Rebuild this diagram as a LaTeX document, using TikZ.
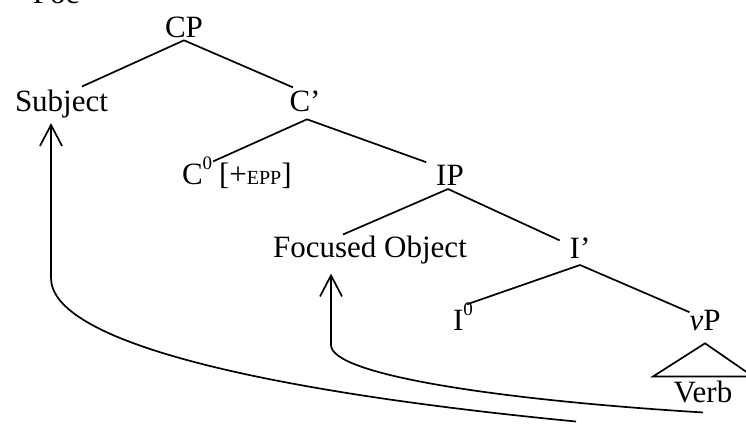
\documentclass[tikz,border=0pt]{standalone}
\usepackage{fontspec}
\setmainfont{Liberation Serif}
\usetikzlibrary{arrows.meta,calc}
% small raised zero for head labels
\newcommand{\supz}{\raisebox{15pt}{\fontsize{19}{22}\selectfont 0}}
\begin{document}
\begin{tikzpicture}[x=1pt,y=1pt,
  lbl/.style={anchor=base,inner sep=0pt,outer sep=0pt,font=\fontsize{31}{37}\selectfont},
  branch/.style={line width=1.7pt},
  move/.style={line width=1.7pt,-{Straight Barb[length=21pt,width=22pt]}}]
\useasboundingbox (0,0) rectangle (746,-423);

% tree labels
\node[lbl,anchor=base west] (feat) at (15.5,-4) {+Foc};
\node[lbl] (CP) at (184,-37) {CP};
\node[lbl] (Subj) at (61.5,-111) {Subject};
\node[lbl] (Cbar) at (305,-111) {C’};
\node[lbl,anchor=base west] (C0) at (182,-184) {C\supz};
\node[lbl,anchor=base west] (epp) at (219,-184) {[+{\fontsize{20}{24}\selectfont EPP}]};
\node[lbl] (IP) at (450,-185) {IP};
\node[lbl] (FO) at (370,-257) {Focused Object};
\node[lbl] (Ibar) at (580,-258) {I’};
\node[lbl,anchor=base west] (I0) at (453,-330) {I\supz};
\node[lbl] (vP) at (705,-330) {\textit{v}P};
\node[lbl] (Verb) at (703,-402) {Verb};

% branches
\draw[branch] ($(CP.south)+(0,-3)$) -- ($(Subj.north)+(20.5,3)$);
\draw[branch] ($(CP.south)+(0,-3)$) -- ($(Cbar.north)+(-12,3)$);
\draw[branch] ($(Cbar.south)+(2,-8)$) -- ($(C0.north east)+(1,-5)$);
\draw[branch] ($(Cbar.south)+(2,-8)$) -- ($(IP.north west)+(-10,2.5)$);
\draw[branch] ($(IP.south)+(-2,-4)$) -- ($(FO.north)+(-27,1)$);
\draw[branch] ($(IP.south)+(-2,-4)$) -- ($(Ibar.north west)+(-10,-3)$);
\draw[branch] ($(Ibar.south)+(0,-7)$) -- ($(I0.north east)+(-6,-2)$);
\draw[branch] ($(Ibar.south)+(0,-7)$) -- ($(vP.north west)+(0,-2.5)$);

% triangle over the verb
\draw[branch,line join=miter] ($(vP.south)+(0,-13)$) -- ($(Verb.north)+(-50,4)$)
  -- ($(Verb.north)+(50,4)$) -- cycle;

% movement arrows
\coordinate (tailS) at (576,-421.5);
\draw[move] (tailS) .. controls (250,-390) and (51,-340) .. (51,-278)
  -- ($(Subj.south)+(-10.5,-5.5)$);
\draw[move] ($(Verb.south)+(0,-10)$) .. controls (500,-400) and (331,-375) .. (331,-345)
  -- ($(FO.south)+(-39,-10)$);
\end{tikzpicture}
\end{document}
